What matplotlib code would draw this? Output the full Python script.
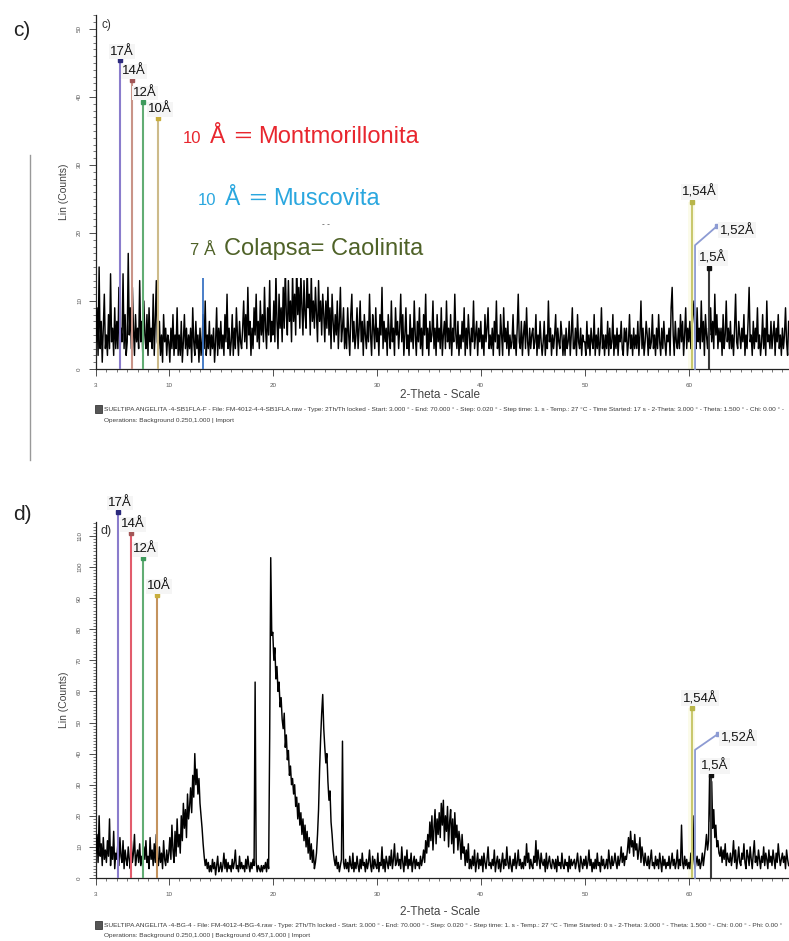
import numpy as np
import matplotlib
matplotlib.use("Agg")
import matplotlib.pyplot as plt
from matplotlib.ticker import MultipleLocator, FixedLocator
from matplotlib.patches import Rectangle
from matplotlib.lines import Line2D

W, H = 789, 941

# Scan grid (degrees 2-theta)
TH_START = 3.0
TH_STEP = 0.1

# Sample c) - counts, one row per degree starting at 3.0
counts_c = [
    4, 9, 2, 15, 3, 7, 1, 6, 11, 3,
    5, 2, 8, 3, 14, 4, 6, 2, 9, 3,
    7, 3, 12, 2, 6, 4, 14, 3, 8, 2,
    4, 17, 5, 9, 3, 12, 6, 2, 8, 4,
    6, 3, 13, 4, 7, 2, 10, 5, 3, 8,
    2, 9, 4, 6, 3, 11, 2, 7, 13, 4,
    3, 7, 2, 5, 1, 8, 4, 6, 2, 5,
    4, 1, 6, 3, 8, 2, 5, 3, 9, 2,
    5, 2, 7, 1, 4, 8, 3, 6, 2, 5,
    3, 6, 1, 9, 4, 2, 7, 3, 5, 1,
    6, 2, 4, 8, 3, 10, 2, 5, 3, 7,
    2, 5, 3, 6, 1, 4, 9, 2, 6, 3,
    7, 3, 5, 2, 8, 4, 11, 3, 6, 2,
    4, 8, 2, 6, 3, 9, 5, 2, 7, 4,
    3, 6, 10, 4, 8, 3, 12, 5, 7, 2,
    6, 3, 9, 5, 11, 4, 7, 3, 10, 5,
    8, 4, 12, 6, 3, 9, 5, 13, 4, 7,
    5, 10, 4, 14, 7, 3, 11, 6, 9, 4,
    12, 6, 15, 8, 5, 13, 7, 10, 4, 14,
    7, 11, 5, 16, 8, 12, 6, 14, 9, 5,
    13, 8, 6, 15, 9, 11, 5, 14, 7, 10,
    6, 12, 8, 4, 13, 7, 10, 5, 11, 8,
    4, 10, 6, 12, 5, 9, 3, 11, 7, 4,
    8, 5, 10, 3, 7, 12, 4, 6, 9, 3,
    6, 3, 9, 5, 2, 8, 11, 4, 7, 3,
    5, 9, 3, 6, 10, 4, 7, 2, 8, 5,
    3, 7, 4, 11, 5, 2, 8, 6, 3, 9,
    4, 6, 2, 8, 5, 12, 3, 7, 4, 6,
    2, 8, 5, 3, 10, 4, 6, 2, 9, 5,
    7, 3, 6, 11, 4, 8, 2, 5, 9, 3,
    5, 2, 8, 4, 6, 3, 10, 5, 2, 7,
    4, 9, 3, 6, 2, 8, 5, 11, 3, 6,
    2, 7, 4, 5, 10, 3, 6, 2, 8, 4,
    6, 3, 9, 2, 5, 7, 3, 10, 4, 6,
    3, 8, 2, 6, 4, 11, 5, 3, 7, 2,
    5, 3, 7, 4, 9, 2, 6, 3, 8, 5,
    2, 6, 4, 10, 3, 5, 7, 2, 6, 4,
    7, 3, 5, 2, 8, 4, 6, 9, 3, 5,
    3, 6, 2, 7, 4, 10, 3, 5, 2, 8,
    5, 2, 9, 4, 6, 3, 7, 2, 5, 3,
    4, 8, 3, 5, 2, 6, 11, 4, 3, 7,
    2, 5, 7, 3, 9, 4, 2, 6, 3, 5,
    6, 3, 4, 8, 2, 5, 3, 7, 4, 2,
    4, 7, 2, 5, 3, 10, 4, 6, 2, 5,
    3, 5, 8, 2, 6, 4, 3, 7, 5, 2,
    5, 2, 6, 3, 4, 7, 2, 5, 9, 3,
    3, 6, 2, 8, 4, 3, 6, 2, 5, 4,
    4, 2, 7, 3, 5, 2, 6, 4, 3, 8,
    2, 5, 3, 6, 2, 4, 9, 3, 5, 2,
    5, 3, 7, 2, 6, 3, 4, 8, 2, 5,
    3, 6, 2, 5, 4, 7, 3, 2, 6, 4,
    6, 2, 4, 8, 3, 5, 2, 6, 3, 5,
    3, 7, 2, 5, 10, 3, 6, 2, 4, 7,
    5, 2, 6, 3, 4, 8, 3, 5, 2, 6,
    3, 8, 4, 2, 6, 3, 7, 4, 2, 5,
    4, 6, 2, 9, 12, 5, 2, 7, 4, 3,
    6, 3, 8, 4, 7, 2, 5, 9, 3, 6,
    4, 7, 3, 6, 8, 10, 5, 3, 9, 4,
    6, 3, 10, 4, 7, 2, 8, 5, 3, 6,
    5, 9, 4, 7, 3, 11, 5, 8, 3, 6,
    4, 6, 2, 8, 3, 5, 10, 4, 6, 3,
    7, 3, 5, 2, 6, 11, 4, 3, 7, 5,
    3, 6, 4, 8, 2, 5, 3, 7, 12, 4,
    5, 2, 7, 3, 6, 4, 9, 3, 5, 2,
    4, 8, 3, 6, 2, 10, 4, 5, 3, 7,
    3, 5, 7, 2, 6, 4, 8, 3, 5, 2,
    6, 3, 5, 9, 4, 2, 7,
]

# Sample d) - counts, one row per degree starting at 3.0
counts_d = [
    8, 14, 5, 20, 7, 11, 4, 13, 6, 9,
    5, 12, 7, 19, 4, 10, 6, 15, 3, 8,
    6, 11, 4, 13, 7, 5, 12, 3, 9, 6,
    4, 10, 6, 3, 12, 5, 8, 14, 4, 7,
    9, 5, 11, 4, 7, 3, 10, 6, 12, 5,
    7, 3, 13, 6, 9, 4, 11, 5, 14, 6,
    4, 10, 5, 8, 3, 12, 6, 4, 9, 5,
    8, 13, 6, 17, 9, 5, 15, 7, 19, 10,
    14, 8, 20, 12, 24, 16, 22, 13, 27, 19,
    23, 29, 21, 33, 26, 40, 30, 35, 27, 32,
    24, 20, 16, 11, 7, 4, 6, 3, 5, 2,
    4, 2, 6, 3, 5, 1, 4, 7, 2, 3,
    5, 2, 4, 8, 3, 6, 2, 5, 3, 4,
    2, 6, 3, 5, 9, 3, 4, 2, 7, 3,
    5, 3, 4, 2, 6, 3, 7, 4, 2, 5,
    3, 6, 4, 63, 5, 2, 4, 3, 2, 4,
    2, 4, 3, 5, 2, 6, 3, 45, 103, 78,
    79, 70, 74, 64, 68, 60, 63, 55, 58, 51,
    48, 53, 42, 46, 38, 41, 33, 36, 30, 32,
    27, 30, 23, 26, 19, 24, 17, 21, 14, 19,
    12, 17, 10, 15, 8, 13, 6, 11, 5, 9,
    3, 5, 8, 14, 22, 35, 45, 53, 59, 48,
    42, 37, 40, 31, 25, 28, 18, 14, 9, 6,
    4, 7, 3, 5, 2, 4, 6, 44, 5, 3,
    6, 3, 5, 2, 7, 4, 3, 8, 2, 5,
    3, 7, 4, 2, 6, 3, 8, 4, 5, 2,
    6, 3, 5, 9, 4, 2, 7, 3, 6, 4,
    3, 8, 2, 5, 4, 10, 3, 6, 2, 7,
    5, 3, 7, 4, 9, 3, 6, 11, 4, 5,
    8, 4, 6, 3, 10, 5, 2, 7, 4, 9,
    3, 6, 4, 8, 2, 5, 7, 3, 6, 4,
    5, 3, 7, 4, 6, 9, 5, 12, 8, 14,
    10, 18, 12, 20, 9, 16, 22, 11, 19, 14,
    21, 13, 24, 17, 25, 12, 20, 15, 23, 10,
    18, 22, 11, 19, 8, 21, 13, 17, 9, 15,
    12, 6, 14, 8, 10, 4, 9, 5, 11, 3,
    6, 3, 7, 4, 9, 2, 5, 8, 3, 6,
    4, 7, 2, 8, 5, 3, 6, 10, 4, 5,
    3, 6, 4, 9, 2, 5, 7, 3, 6, 2,
    5, 8, 3, 6, 4, 10, 5, 3, 7, 4,
    2, 6, 4, 8, 3, 5, 9, 4, 6, 3,
    5, 3, 7, 4, 11, 5, 8, 3, 6, 4,
    3, 7, 5, 12, 4, 9, 6, 3, 8, 5,
    4, 6, 2, 8, 3, 5, 7, 4, 3, 6,
    5, 3, 6, 2, 7, 4, 5, 3, 8, 4,
    3, 6, 4, 5, 2, 7, 3, 6, 4, 5,
    6, 3, 5, 8, 4, 2, 7, 5, 3, 6,
    4, 7, 3, 5, 9, 4, 6, 2, 5, 3,
    6, 3, 8, 4, 5, 2, 7, 4, 6, 3,
    4, 6, 3, 9, 5, 3, 7, 4, 5, 8,
    5, 3, 7, 4, 6, 10, 5, 8, 4, 7,
    6, 9, 13, 8, 15, 10, 12, 7, 14, 9,
    11, 6, 9, 13, 5, 10, 7, 4, 8, 5,
    4, 7, 3, 6, 9, 4, 5, 3, 7, 4,
    6, 3, 8, 5, 2, 7, 4, 6, 3, 5,
    4, 7, 3, 5, 8, 4, 6, 3, 5, 9,
    3, 6, 4, 17, 5, 3, 7, 4, 6, 3,
    5, 3, 8, 4, 20, 6, 3, 5, 7, 4,
    6, 3, 5, 8, 4, 7, 10, 14, 9, 12,
    33, 18, 31, 16, 22, 13, 17, 10, 12, 8,
    7, 10, 5, 9, 6, 11, 4, 8, 6, 5,
    8, 4, 7, 12, 5, 9, 3, 6, 10, 5,
    4, 8, 6, 11, 5, 3, 9, 7, 4, 10,
    6, 3, 8, 12, 5, 7, 4, 9, 6, 3,
    7, 5, 10, 4, 8, 6, 3, 9, 5, 7,
    4, 9, 6, 3, 8, 5, 11, 7, 4, 6,
    8, 5, 7, 3, 9, 6, 4,
]

# Clay reference sticks (low angle)
low_labels = ["17Å", "14Å", "12Å", "10Å"]
low_pos_c = [5.3, 6.45, 7.5, 8.95]
low_top_c = [45.4, 42.5, 39.3, 36.9]
low_pos_d = [5.1, 6.35, 7.5, 8.85]
low_top_d = [117.7, 110.9, 102.9, 91.0]
low_line_c = ["#8a7ccc", "#c99488", "#62ad74", "#cdbb8a"]
low_line_d = ["#8a7ccc", "#e25c6c", "#62ad74", "#c4935e"]
low_mark = ["#2b2a7c", "#a25656", "#3e9a5c", "#c8ae3c"]

# Reference sticks (high angle)
high_labels = ["1,54Å", "1,52Å", "1,5Å"]
high_pos_c = [60.3, 60.6, 61.9]
high_top_c = [24.6, 18.2, 14.9]
high_pos_d = [60.35, 60.6, 62.1]
high_top_d = [54.7, 41.2, 33.1]
high_line = ["#c9c86e", "#8d9bd3", "#3a3a3a"]
high_mark = ["#b8b54a", "#8d9bd3", "#111111"]
# end of the leader drawn for the 1,52 stick
leader_end_c = (62.7, 21.0)
leader_end_d = (62.8, 46.3)

# kaolinite stick in c)
kaol_pos_c = 13.3
kaol_top_c = 20.0

scan_c = ("SUELTIPA ANGELITA -4-SB1FLA-F - File: FM-4012-4-4-SB1FLA.raw - Type: 2Th/Th locked - "
          "Start: 3.000 ° - End: 70.000 ° - Step: 0.020 ° - Step time: 1. s - Temp.: 27 °C - "
          "Time Started: 17 s - 2-Theta: 3.000 ° - Theta: 1.500 ° - Chi: 0.00 ° -")
ops_c = "Operations: Background 0.250,1.000 | Import"
scan_d = ("SUELTIPA ANGELITA -4-BG-4 - File: FM-4012-4-BG-4.raw - Type: 2Th/Th locked - "
          "Start: 3.000 ° - End: 70.000 ° - Step: 0.020 ° - Step time: 1. s - Temp.: 27 °C - "
          "Time Started: 0 s - 2-Theta: 3.000 ° - Theta: 1.500 ° - Chi: 0.00 ° - Phi: 0.00 °")
ops_d = "Operations: Background 0.250,1.000 | Background 0.457,1.000 | Import"

SANS = ["Liberation Sans", "DejaVu Sans"]
plt.rcParams["font.family"] = SANS

fig = plt.figure(figsize=(W / 100, H / 100), dpi=100)
fig.patch.set_facecolor("white")

X0 = 96          # pixel column of 2theta = 3
PX_PER_DEG = 10.4
x_max = TH_START + (W - X0) / PX_PER_DEG


def fx(px):
    return px / W


def fy(py):
    return 1 - py / H


def make_axes(y_bottom_px, y_top_px, y_max, title_gap):
    ax = fig.add_axes([X0 / W, 1 - y_bottom_px / H, 1 - X0 / W,
                       (y_bottom_px - y_top_px) / H])
    ax.set_xlim(TH_START, x_max)
    ax.set_ylim(0, y_max)
    ax.set_facecolor("none")
    for s in ("top", "right"):
        ax.spines[s].set_visible(False)
    for s in ("left", "bottom"):
        ax.spines[s].set_linewidth(0.9)
        ax.spines[s].set_color("#222222")
    ax.xaxis.set_major_locator(FixedLocator([3, 10, 20, 30, 40, 50, 60, 70]))
    ax.xaxis.set_minor_locator(MultipleLocator(1))
    ax.yaxis.set_major_locator(MultipleLocator(10))
    ax.yaxis.set_minor_locator(MultipleLocator(1))
    ax.tick_params(which="major", length=5, width=0.6, color="#333333",
                   labelsize=4.5, labelcolor="#555555", pad=5)
    ax.tick_params(which="minor", length=2.5, width=0.5, color="#444444")
    for lab in ax.get_yticklabels():
        lab.set_rotation(90)
        lab.set_va("center")
    ax.set_ylabel("Lin (Counts)", fontsize=7.5, color="#444444", labelpad=6)
    # x title drawn as figure text just below the tick labels
    fig.text(fx(440), fy(y_bottom_px + title_gap), "2-Theta - Scale",
             fontsize=8.5, color="#444444", ha="center", va="center")
    return ax


def stick(ax, x, top, lc, mc, label):
    ax.plot([x, x], [0, top], color=lc, lw=1.5, zorder=4, clip_on=False,
            solid_capstyle="butt")
    ax.plot([x], [top], marker="s", ms=3, color=mc, zorder=5, clip_on=False)
    ax.annotate(label, (x, top), xytext=(-7, 2), textcoords="offset points",
                ha="left", va="bottom", fontsize=9.5, color="#111111",
                zorder=6, annotation_clip=False,
                bbox=dict(boxstyle="square,pad=0.1", fc="#f5f5f5", ec="none"))


def draw_panel(ax, counts, low_pos, low_top, low_line, high_pos, high_top, leader_end):
    th = TH_START + TH_STEP * np.arange(len(counts))
    ax.plot(th, counts, color="black", lw=1.05, zorder=3)
    # faint highlight strip behind the 1,54 stick
    ax.axvspan(59.9, 60.55, ymax=high_top[0] / ax.get_ylim()[1], color="#fbfbea",
               zorder=1, lw=0)
    for x, t, lc, mc, lab in zip(low_pos, low_top, low_line, low_mark, low_labels):
        stick(ax, x, t, lc, mc, lab)
    # 1,54
    stick(ax, high_pos[0], high_top[0], high_line[0], high_mark[0], high_labels[0])
    # 1,52 with leader
    ax.plot([high_pos[1], high_pos[1], leader_end[0]],
            [0, high_top[1], leader_end[1]], color=high_line[1], lw=1.3,
            zorder=4, clip_on=False)
    ax.plot([leader_end[0]], [leader_end[1]], marker="s", ms=3,
            color=high_mark[1], zorder=5)
    ax.annotate(high_labels[1], leader_end, xytext=(2, -3),
                textcoords="offset points", ha="left", va="center",
                fontsize=9.5, color="#111111", zorder=6,
                bbox=dict(boxstyle="square,pad=0.1", fc="#f5f5f5", ec="none"))
    # 1,5
    stick(ax, high_pos[2], high_top[2], high_line[2], high_mark[2], high_labels[2])


# ---- panel c
ax_c = make_axes(369, 15, 354 / 6.8, 26)
draw_panel(ax_c, counts_c, low_pos_c, low_top_c, low_line_c,
           high_pos_c, high_top_c, leader_end_c)
ax_c.plot([kaol_pos_c, kaol_pos_c], [0, kaol_top_c], color="#3a74c4",
          lw=1.3, zorder=4)
ax_c.text(3.5, 51.5, "c)", fontsize=8.5, color="#333333", va="top", ha="left")

# ---- panel d
ax_d = make_axes(878, 522, 356 / 3.11, 34)
draw_panel(ax_d, counts_d, low_pos_d, low_top_d, low_line_d,
           high_pos_d, high_top_d, leader_end_d)
ax_d.text(3.4, 113.5, "d)", fontsize=9, color="#333333", va="top", ha="left")

# white annotation panel over c)
fig.add_artist(Rectangle((fx(176), fy(278)), (442 - 176) / W, (278 - 108) / H,
                         transform=fig.transFigure, facecolor="white",
                         edgecolor="none", zorder=5))

RED, BLUE, OLIVE = "#e8262e", "#2aa7df", "#4f6228"
legend_rows = [
    (143, RED, [(183, "10", 12), (210, "Å", 16.5), (232, "＝", 15), (258, "Montmorillonita", 17)]),
    (205, BLUE, [(198, "10", 12), (225, "Å", 16.5), (247, "＝", 15), (273, "Muscovita", 17)]),
    (255, OLIVE, [(189, "7", 12), (204, "Å", 12.5), (224, "Colapsa= Caolinita", 17)]),
]
for base, col, pieces in legend_rows:
    for x, s, size in pieces:
        fam = ["Noto Sans CJK JP", "DejaVu Sans"] if s == "＝" else SANS
        fig.text(fx(x), fy(base), s, fontsize=size, color=col, family=fam,
                 ha="left", va="baseline", zorder=7)
fig.text(fx(322), fy(224), "- -", fontsize=6, color="#333333", ha="left",
         va="center", zorder=7)

# panel letters
fig.text(fx(13), fy(31), "c)", fontsize=15, color="#222222", va="center", ha="left")
fig.text(fx(13), fy(515), "d)", fontsize=15, color="#222222", va="center", ha="left")

# left rule beside c)
fig.add_artist(Line2D([fx(30), fx(30)], [fy(155), fy(460)], color="#999999",
                      lw=1.0, transform=fig.transFigure))

# scan information lines
for y1, l1, l2 in [(409, scan_c, ops_c), (925, scan_d, ops_d)]:
    fig.add_artist(Rectangle((fx(95), fy(y1 + 4)), 7 / W, 8 / H,
                             transform=fig.transFigure, facecolor="#555555",
                             edgecolor="#222222", lw=0.5))
    fig.text(fx(104), fy(y1), l1, fontsize=4.65, color="#3a3a3a", va="center",
             ha="left")
    fig.text(fx(104), fy(y1 + 11), l2, fontsize=4.65, color="#3a3a3a",
             va="center", ha="left")

fig.savefig("out.png", dpi=100, facecolor="white")
